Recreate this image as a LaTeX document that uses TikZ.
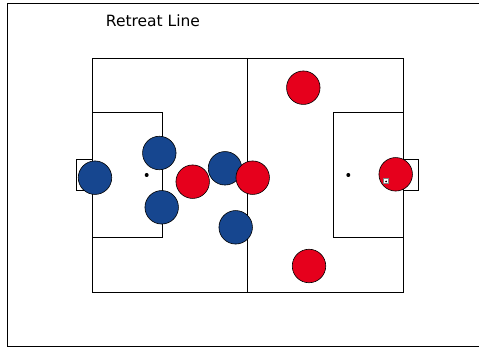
\documentclass[tikz,border=0pt]{standalone}
\usepackage{fontspec}
\setmainfont{DejaVu Sans}
\definecolor{teamred}{RGB}{230,0,28}
\definecolor{teamblue}{RGB}{22,70,143}
\begin{document}
\begin{tikzpicture}[x=1pt,y=-1pt,
  line/.style={draw=black,line width=0.8pt},
  redp/.style={circle,draw=black,line width=0.6pt,fill=teamred,minimum size=33.5pt,inner sep=0pt},
  bluep/.style={circle,draw=black,line width=0.6pt,fill=teamblue,minimum size=33.5pt,inner sep=0pt},
  spot/.style={circle,fill=black,minimum size=4pt,inner sep=0pt}]
\useasboundingbox (0,0) rectangle (479,347);
% outer frame
\draw[line] (479,3) -- (7,3) -- (7,346) -- (479,346);
% title
\node[font=\fontsize{15.5}{17}\selectfont,anchor=center] (title) at (153,21) {Retreat Line};
% pitch
\draw[line] (92,58) rectangle (403,292);
\draw[line] (247.5,58) -- (247.5,292);
\draw[line] (92,112.5) rectangle (162,237);
\draw[line] (333,112.5) rectangle (403,237);
\draw[line] (76.5,159.5) rectangle (92,190.5);
\draw[line] (403,159.5) rectangle (418.5,190.5);
\node[spot] (lspot) at (146.7,175) {};
\node[spot] (rspot) at (348.3,175) {};
% players
\node[bluep] (b1) at (95,177.7) {};
\node[bluep] (b2) at (159.3,153) {};
\node[bluep] (b3) at (161.7,207.3) {};
\node[redp] (r1) at (192.7,181.7) {};
\node[bluep] (b4) at (225,168.3) {};
\node[redp] (r2) at (252.7,177.7) {};
\node[bluep] (b5) at (235.7,227.3) {};
\node[redp] (r3) at (303.3,87.7) {};
\node[redp] (r4) at (309,266) {};
\node[redp] (r5) at (395.7,174.3) {};
% ball
\node[draw=gray,fill=white,line width=0.4pt,minimum size=5pt,inner sep=0pt] (ball) at (386,181) {};
\node[circle,fill=black,minimum size=2pt,inner sep=0pt] (ballc) at (386,181.5) {};
\end{tikzpicture}
\end{document}
